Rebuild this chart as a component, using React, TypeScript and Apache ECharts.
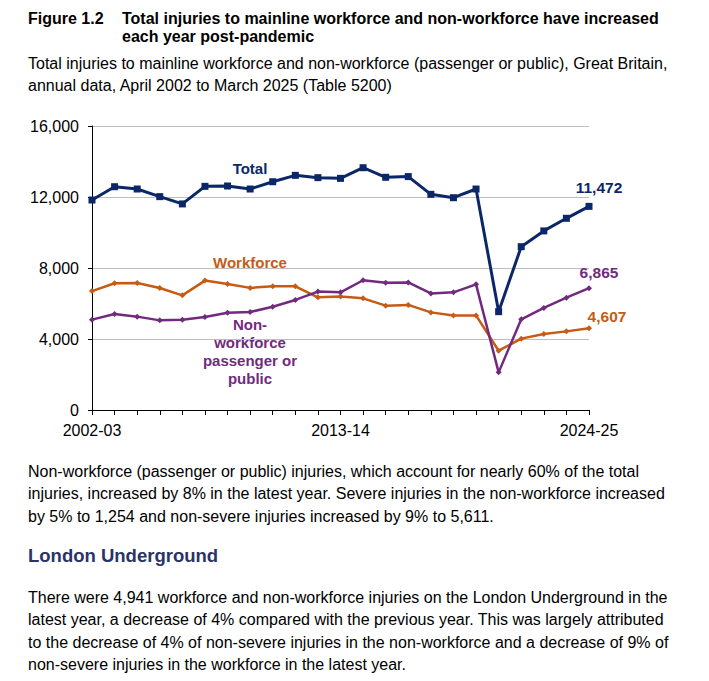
import React, { useEffect, useRef } from "react";
import * as echarts from "echarts";

const categories = [
  "2002-03", "2003-04", "2004-05", "2005-06", "2006-07", "2007-08", "2008-09", "2009-10",
  "2010-11", "2011-12", "2012-13", "2013-14", "2014-15", "2015-16", "2016-17", "2017-18",
  "2018-19", "2019-20", "2020-21", "2021-22", "2022-23", "2023-24", "2024-25",
];
const totalValues = [11830, 12580, 12450, 12020, 11610, 12600, 12620, 12450, 12860, 13220, 13090, 13050, 13650, 13110, 13150, 12150, 11960, 12450, 5540, 9200, 10090, 10800, 11472];
const workforceValues = [6700, 7140, 7150, 6870, 6460, 7290, 7100, 6880, 6970, 6970, 6350, 6390, 6290, 5880, 5920, 5500, 5320, 5330, 3340, 4020, 4280, 4430, 4607];
const nonWorkforceValues = [5090, 5410, 5260, 5050, 5090, 5240, 5480, 5520, 5820, 6200, 6670, 6630, 7310, 7170, 7190, 6570, 6630, 7080, 2120, 5110, 5750, 6330, 6865];

const NAVY = "#0b2767";
const ORANGE = "#c65b14";
const PURPLE = "#722a7e";
const FONT = '"Liberation Sans", Arial, sans-serif';

const titleLines = [
  { text: "Figure 1.2", x: 28, y: 18 },
  { text: "Total injuries to mainline workforce and non-workforce have increased", x: 122, y: 18 },
  { text: "each year post-pandemic", x: 122, y: 36 },
];
const subtitleLines = [
  "Total injuries to mainline workforce and non-workforce (passenger or public), Great Britain,",
  "annual data, April 2002 to March 2025 (Table 5200)",
];
const para1 = [
  "Non-workforce (passenger or public) injuries, which account for nearly 60% of the total",
  "injuries, increased by 8% in the latest year. Severe injuries in the non-workforce increased",
  "by 5% to 1,254 and non-severe injuries increased by 9% to 5,611.",
];
const heading = "London Underground";
const para2 = [
  "There were 4,941 workforce and non-workforce injuries on the London Underground in the",
  "latest year, a decrease of 4% compared with the previous year. This was largely attributed",
  "to the decrease of 4% of non-severe injuries in the non-workforce and a decrease of 9% of",
  "non-severe injuries in the workforce in the latest year.",
];
const nonWorkforceLabel = ["Non-", "workforce", "passenger or", "public"];

function fmt(v: number) {
  return v.toLocaleString("en-GB");
}

function txt(text: string, x: number, y: number, font: string, fill: string, align = "left") {
  return {
    type: "text",
    x,
    y,
    silent: true,
    style: { text, font, fill, textAlign: align, textVerticalAlign: "middle" },
  };
}

function lastLabel(values: number[], color: string, offset: number[]) {
  return values.map((v, i) =>
    i === values.length - 1
      ? {
          value: v,
          label: {
            show: true,
            position: "top",
            offset,
            formatter: (p: any) => fmt(p.value),
            color,
            fontFamily: FONT,
            fontWeight: "bold",
            fontSize: 15.5,
          },
        }
      : v
  );
}

export default function App() {
  const ref = useRef<HTMLDivElement>(null);
  useEffect(() => {
    if (!ref.current) return;
    const chart = echarts.init(ref.current, undefined, { renderer: "svg" });
    const graphics: any[] = [];
    titleLines.forEach((l) => graphics.push(txt(l.text, l.x, l.y, `bold 16px ${FONT}`, "#000")));
    subtitleLines.forEach((t, i) => graphics.push(txt(t, 28, 63 + i * 22, `16px ${FONT}`, "#000")));
    para1.forEach((t, i) => graphics.push(txt(t, 28, 471 + i * 22.5, `16px ${FONT}`, "#000")));
    graphics.push(txt(heading, 28, 555, `bold 18.5px ${FONT}`, "#2b3467"));
    para2.forEach((t, i) => graphics.push(txt(t, 28, 597 + i * 22.5, `16px ${FONT}`, "#000")));
    graphics.push(txt("Total", 250, 168, `bold 15px ${FONT}`, NAVY, "center"));
    graphics.push(txt("Workforce", 250, 262, `bold 15px ${FONT}`, ORANGE, "center"));
    nonWorkforceLabel.forEach((t, i) =>
      graphics.push(txt(t, 250, 324 + i * 18, `bold 15px ${FONT}`, PURPLE, "center"))
    );

    chart.setOption({
      animation: false,
      backgroundColor: "#fff",
      grid: { left: 92, right: 120, top: 126, bottom: 271, containLabel: false },
      xAxis: {
        type: "category",
        data: categories,
        boundaryGap: false,
        axisLine: { show: true, lineStyle: { color: "#000", width: 1 } },
        axisTick: { show: true, interval: 0, length: 5, lineStyle: { color: "#000" } },
        axisLabel: {
          interval: 10,
          color: "#000",
          fontFamily: FONT,
          fontSize: 16,
          margin: 12,
        },
        splitLine: { show: false },
      },
      yAxis: {
        type: "value",
        min: 0,
        max: 16000,
        interval: 4000,
        axisLine: { show: true, lineStyle: { color: "#000", width: 1 } },
        axisTick: { show: true, length: 4, lineStyle: { color: "#000" } },
        axisLabel: {
          color: "#000",
          fontFamily: FONT,
          fontSize: 16,
          margin: 13,
          formatter: (v: number) => fmt(v),
        },
        splitLine: { show: true, lineStyle: { color: "#bdbdbd", width: 1 } },
      },
      series: [
        {
          name: "Workforce",
          type: "line",
          data: lastLabel(workforceValues, ORANGE, [18, 4]),
          symbol: "diamond",
          symbolSize: 6,
          lineStyle: { color: ORANGE, width: 2.5 },
          itemStyle: { color: ORANGE },
          z: 2,
        },
        {
          name: "Non-workforce",
          type: "line",
          data: lastLabel(nonWorkforceValues, PURPLE, [10, 0]),
          symbol: "diamond",
          symbolSize: 6,
          lineStyle: { color: PURPLE, width: 2.5 },
          itemStyle: { color: PURPLE },
          z: 3,
        },
        {
          name: "Total",
          type: "line",
          data: lastLabel(totalValues, NAVY, [10, -2]),
          symbol: "rect",
          symbolSize: 7,
          lineStyle: { color: NAVY, width: 3 },
          itemStyle: { color: NAVY },
          z: 4,
        },
      ],
      graphic: graphics,
    });
    return () => chart.dispose();
  }, []);
  return (
    <div
      ref={ref}
      style={{ position: "absolute", left: 0, top: 0, width: 709, height: 681, background: "#fff" }}
    />
  );
}
